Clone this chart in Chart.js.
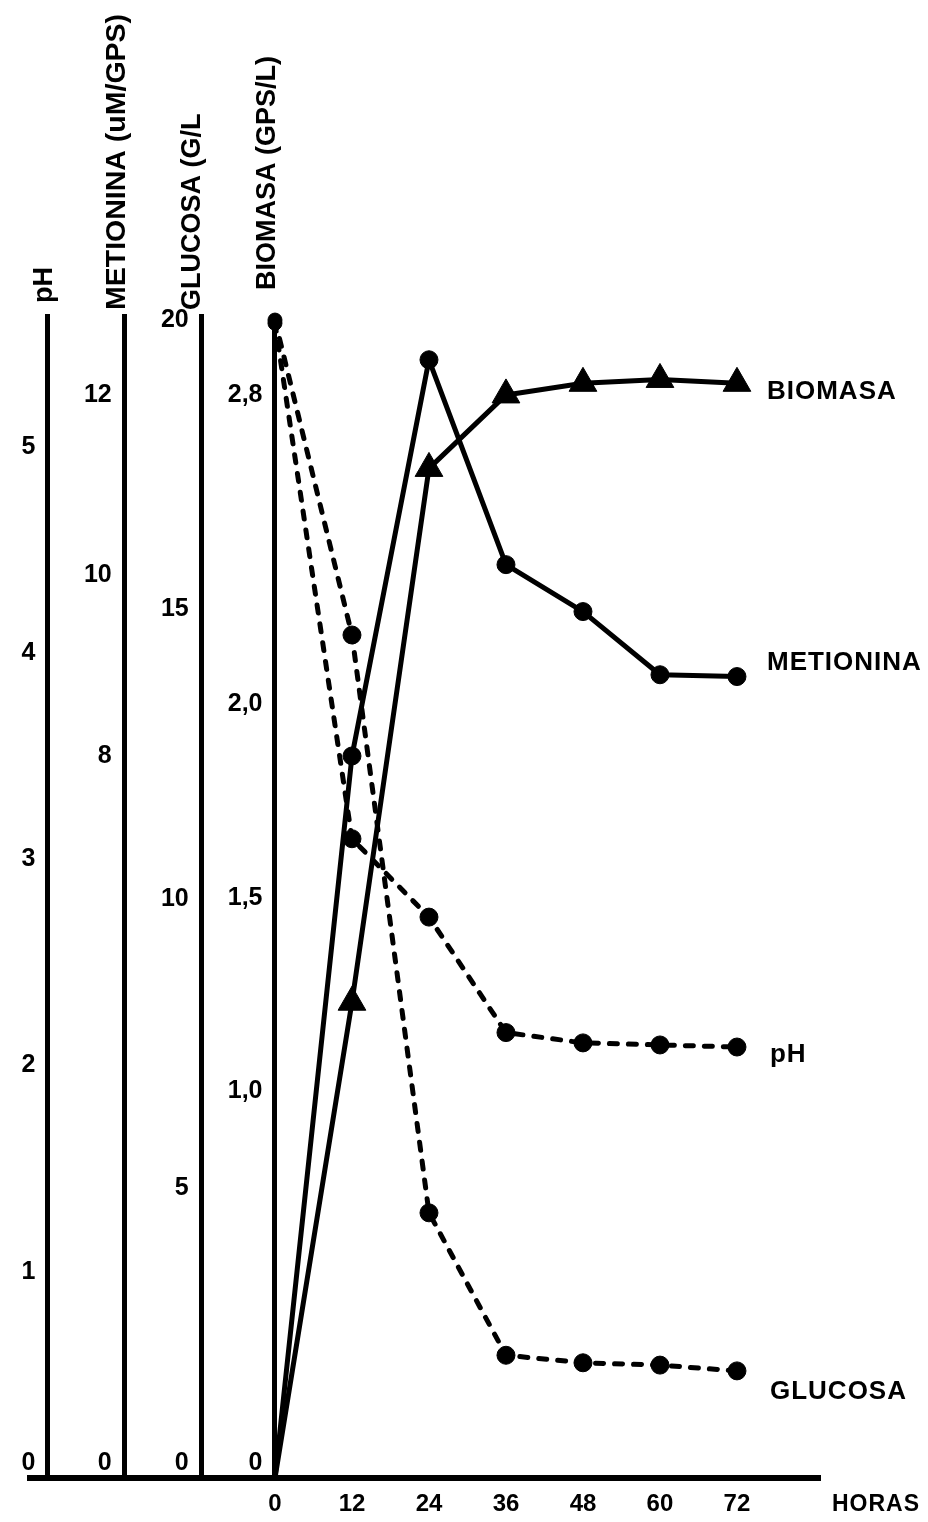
<!DOCTYPE html>
<html>
<head>
<meta charset="utf-8">
<script src="https://cdn.jsdelivr.net/npm/chart.js@4/dist/chart.umd.min.js"></script>
<style>
  html, body { margin: 0; padding: 0; background: #fff; }
  #c { display: block; }
</style>
</head>
<body>
<canvas id="c" width="928" height="1522"></canvas>
<script>
// ---- data ----
const hours = [0, 12, 24, 36, 48, 60, 72];
const biomasa = [0, 1.23, 2.61, 2.80, 2.83, 2.84, 2.83];      // GPS/L
const metionina = [0, 8.0, 12.39, 10.12, 9.6, 8.9, 8.88];      // uM/GPS
const ph = [5.6, 3.10, 2.72, 2.16, 2.11, 2.10, 2.09];          // pH
const glucosa = [20, 14.56, 4.58, 2.12, 1.99, 1.95, 1.85];     // G/L

// ---- tick labels ----
const xTicks = [0, 12, 24, 36, 48, 60, 72];
const phTicks = [0, 1, 2, 3, 4, 5];
const metTicks = [0, 8, 10, 12];
const gluTicks = [0, 5, 10, 15, 20];
const bioTicks = [0, 1.0, 1.5, 2.0, 2.8];
const bioTickLabels = ['0', '1,0', '1,5', '2,0', '2,8'];

// ---- texts ----
const axisTitles = ['pH', 'METIONINA (uM/GPS)', 'GLUCOSA (G/L', 'BIOMASA (GPS/L)'];
const seriesNames = ['BIOMASA', 'METIONINA', 'pH', 'GLUCOSA'];
const xTitle = 'HORAS';

// ---- axis ranges ----
const xRange = [-38.18, 84.94];
const phRange = [0, 5.635];
const metRange = [0, 12.875];
const gluRange = [0, 20.07];
const bioRange = [0, 3.004];

// ---- layout / style (not data) ----
const FONT = "'Liberation Sans', Arial, sans-serif";
const axisIds = ['yPH', 'yMet', 'yGlu', 'yBio'];
const axisAt = { yPH: -35.4, yMet: -23.5, yGlu: -11.5, yBio: 0 };   // x-value where each y axis sits
const titleStyle = { yPH: [-3, 13, 27], yMet: [-7, 6, 28.5], yGlu: [-9, 6, 27], yBio: [-7, 26, 27] }; // [dx, gap, size]
const labelOffsets = [[30, 9], [30, -14], [33, 8], [33, 21]];        // series end labels [dx, dy]

Chart.defaults.font.family = FONT;
Chart.defaults.font.weight = 'bold';
Chart.defaults.color = '#000';

const pad = '\u2002';
function yAxis(pos, range, ticks, labels) {
  return {
    type: 'linear',
    position: { x: pos },
    min: range[0], max: range[1],
    grid: { display: false, drawTicks: false },
    border: { display: true, width: 5, color: '#000' },
    ticks: {
      autoSkip: false,
      padding: 0,
      font: { size: 25, weight: 'bold', family: FONT },
      color: '#000',
      callback: function (v) {
        const i = ticks.indexOf(v);
        const s = (labels ? labels[i] : String(v)) + pad;
        return v === 0 ? [s, ''] : s;
      }
    },
    afterBuildTicks: function (scale) { scale.ticks = ticks.map(v => ({ value: v })); }
  };
}

const pts = arr => hours.map((h, i) => ({ x: h, y: arr[i] }));

const endLabels = {
  id: 'endLabels',
  afterDraw(chart) {
    const ctx = chart.ctx;
    ctx.save();
    ctx.fillStyle = '#000';
    // axis titles above each vertical axis
    axisIds.forEach((id, k) => {
      const x = chart.scales.x.getPixelForValue(axisAt[id]) + titleStyle[id][0];
      const y = chart.chartArea.top - titleStyle[id][1];
      ctx.save();
      ctx.font = "bold " + titleStyle[id][2] + "px " + FONT;
      ctx.translate(x, y);
      ctx.rotate(-Math.PI / 2);
      ctx.textAlign = 'left';
      ctx.textBaseline = 'middle';
      ctx.fillText(axisTitles[k], 0, 0);
      ctx.restore();
    });
    // series names at the end of each curve
    ctx.font = "bold 26px " + FONT;
    try { ctx.letterSpacing = '1px'; } catch (e) {}
    ctx.textAlign = 'left';
    ctx.textBaseline = 'middle';
    chart.data.datasets.forEach((ds, k) => {
      const meta = chart.getDatasetMeta(k);
      const last = meta.data[meta.data.length - 1];
      ctx.fillText(seriesNames[k], last.x + labelOffsets[k][0], last.y + labelOffsets[k][1]);
    });
    // x axis name
    ctx.font = "bold 23px " + FONT;
    const xs = chart.scales.x;
    ctx.fillText(xTitle, chart.chartArea.right + 12, xs.top + 27);
    ctx.restore();
  }
};

const solid = { borderColor: '#000', backgroundColor: '#000', borderWidth: 5, pointBackgroundColor: '#000',
                pointBorderColor: '#000', pointBorderWidth: 1, tension: 0, fill: false, clip: false,
                borderJoinStyle: 'round' };
const dashed = Object.assign({}, solid, { borderDash: [8, 11], borderCapStyle: 'round' });

new Chart(document.getElementById('c'), {
  type: 'line',
  data: {
    datasets: [
      Object.assign({}, solid, { label: seriesNames[0], data: pts(biomasa), yAxisID: 'yBio',
        pointStyle: 'triangle', pointRadius: c => c.dataIndex === 0 ? 0 : 16 }),
      Object.assign({}, solid, { label: seriesNames[1], data: pts(metionina), yAxisID: 'yMet',
        pointStyle: 'circle', pointRadius: c => c.dataIndex === 0 ? 0 : 9 }),
      Object.assign({}, dashed, { label: seriesNames[2], data: pts(ph), yAxisID: 'yPH',
        pointStyle: 'circle', pointRadius: c => c.dataIndex === 0 ? 7 : 9 }),
      Object.assign({}, dashed, { label: seriesNames[3], data: pts(glucosa), yAxisID: 'yGlu',
        pointStyle: 'circle', pointRadius: c => c.dataIndex === 0 ? 7 : 9 })
    ]
  },
  options: {
    responsive: false,
    devicePixelRatio: 1,
    animation: false,
    events: [],
    layout: { padding: { left: 30, right: 108, top: 316, bottom: 0 } },
    plugins: { legend: { display: false }, tooltip: { enabled: false }, title: { display: false } },
    scales: {
      x: {
        type: 'linear',
        position: 'bottom',
        min: xRange[0], max: xRange[1],
        grid: { display: false, drawTicks: false },
        border: { display: true, width: 6, color: '#000' },
        ticks: {
          autoSkip: false, maxRotation: 0, padding: 12,
          font: { size: 24, weight: 'bold', family: FONT }, color: '#000',
          callback: v => String(v)
        },
        afterBuildTicks: s => { s.ticks = xTicks.map(v => ({ value: v })); },
        afterFit: s => { s.height = 44; }
      },
      yPH: yAxis(axisAt.yPH, phRange, phTicks, null),
      yMet: yAxis(axisAt.yMet, metRange, metTicks, null),
      yGlu: yAxis(axisAt.yGlu, gluRange, gluTicks, null),
      yBio: yAxis(axisAt.yBio, bioRange, bioTicks, bioTickLabels)
    }
  },
  plugins: [endLabels]
});
</script>
</body>
</html>
